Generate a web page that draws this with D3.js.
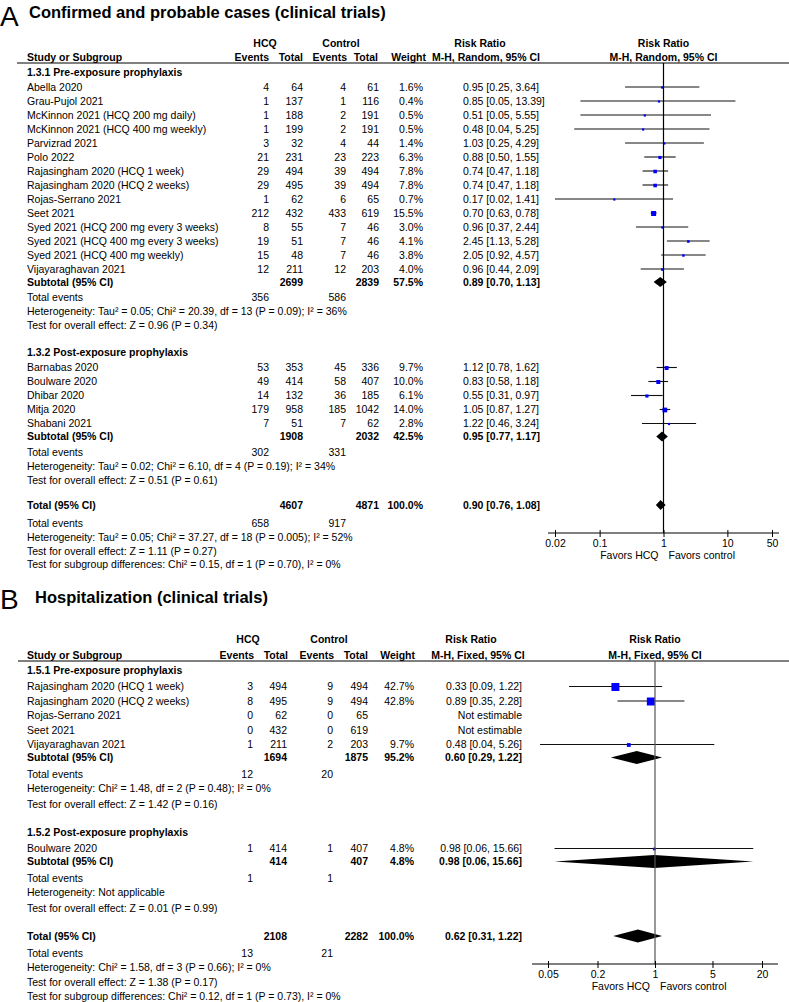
<!DOCTYPE html>
<html><head><meta charset="utf-8">
<script src="https://cdn.jsdelivr.net/npm/d3@7"></script>
<style>
body{margin:0;background:#fff;}
text{font-family:"Liberation Sans",Arial,Helvetica,sans-serif;}
</style>
</head><body>
<svg id="c" width="789" height="1002"></svg>
<script>
// ---------- Panel A: confirmed and probable cases ----------
// Subgroup 1.3.1 Pre-exposure prophylaxis
const a1Names = ["Abella 2020","Grau-Pujol 2021","McKinnon 2021 (HCQ 200 mg daily)","McKinnon 2021 (HCQ 400 mg weekly)","Parvizrad 2021","Polo 2022","Rajasingham 2020 (HCQ 1 week)","Rajasingham 2020 (HCQ 2 weeks)","Rojas-Serrano 2021","Seet 2021","Syed 2021 (HCQ 200 mg every 3 weeks)","Syed 2021 (HCQ 400 mg every 3 weeks)","Syed 2021 (HCQ 400 mg weekly)","Vijayaraghavan 2021"];
const a1HcqEvents = [4,1,1,1,3,21,29,29,1,212,8,19,15,12];
const a1HcqTotal  = [64,137,188,199,32,231,494,495,62,432,55,51,48,211];
const a1CtlEvents = [4,1,2,2,4,23,39,39,6,433,7,7,7,12];
const a1CtlTotal  = [61,116,191,191,44,223,494,494,65,619,46,46,46,203];
const a1Weight = [1.6,0.4,0.5,0.5,1.4,6.3,7.8,7.8,0.7,15.5,3.0,4.1,3.8,4.0];
const a1RR = [0.95,0.85,0.51,0.48,1.03,0.88,0.74,0.74,0.17,0.70,0.96,2.45,2.05,0.96];
const a1Lo = [0.25,0.05,0.05,0.04,0.25,0.50,0.47,0.47,0.02,0.63,0.37,1.13,0.92,0.44];
const a1Hi = [3.64,13.39,5.55,5.25,4.29,1.55,1.18,1.18,1.41,0.78,2.44,5.28,4.57,2.09];
const a1Sub = {hn:2699, cn:2839, w:57.5, rr:0.89, lo:0.70, hi:1.13, he:356, ce:586};
// Subgroup 1.3.2 Post-exposure prophylaxis
const a2Names = ["Barnabas 2020","Boulware 2020","Dhibar 2020","Mitja 2020","Shabani 2021"];
const a2HcqEvents = [53,49,14,179,7];
const a2HcqTotal  = [353,414,132,958,51];
const a2CtlEvents = [45,58,36,185,7];
const a2CtlTotal  = [336,407,185,1042,62];
const a2Weight = [9.7,10.0,6.1,14.0,2.8];
const a2RR = [1.12,0.83,0.55,1.05,1.22];
const a2Lo = [0.78,0.58,0.31,0.87,0.46];
const a2Hi = [1.62,1.18,0.97,1.27,3.24];
const a2Sub = {hn:1908, cn:2032, w:42.5, rr:0.95, lo:0.77, hi:1.17, he:302, ce:331};
const aTotal = {hn:4607, cn:4871, w:100.0, rr:0.90, lo:0.76, hi:1.08, he:658, ce:917};
const aTicks = [0.02, 0.1, 1, 10, 50];

// ---------- Panel B: hospitalization ----------
const b1Names = ["Rajasingham 2020 (HCQ 1 week)","Rajasingham 2020 (HCQ 2 weeks)","Rojas-Serrano 2021","Seet 2021","Vijayaraghavan 2021"];
const b1HcqEvents = [3,8,0,0,1];
const b1HcqTotal  = [494,495,62,432,211];
const b1CtlEvents = [9,9,0,0,2];
const b1CtlTotal  = [494,494,65,619,203];
const b1Weight = [42.7,42.8,null,null,9.7];
const b1RR = [0.33,0.89,null,null,0.48];
const b1Lo = [0.09,0.35,null,null,0.04];
const b1Hi = [1.22,2.28,null,null,5.26];
const b1Sub = {hn:1694, cn:1875, w:95.2, rr:0.60, lo:0.29, hi:1.22, he:12, ce:20};
const b2Names = ["Boulware 2020"];
const b2HcqEvents = [1];
const b2HcqTotal  = [414];
const b2CtlEvents = [1];
const b2CtlTotal  = [407];
const b2Weight = [4.8];
const b2RR = [0.98];
const b2Lo = [0.06];
const b2Hi = [15.66];
const b2Sub = {hn:414, cn:407, w:4.8, rr:0.98, lo:0.06, hi:15.66, he:1, ce:1};
const bTotal = {hn:2108, cn:2282, w:100.0, rr:0.62, lo:0.31, hi:1.22, he:13, ce:21};
const bTicks = [0.05, 0.2, 1, 5, 20];

// ---------- rendering ----------
const FS = 10.5;
const svg = d3.select("#c");
function addText(g, x, y, s, anchor, bold, size) {
  return g.append("text").attr("x", x).attr("y", y).attr("dy", "0.35em")
    .attr("text-anchor", anchor || "start").attr("font-size", size || FS)
    .attr("font-weight", bold ? "bold" : "normal").attr("fill", "#000").text(s);
}
const fmtRR = (r, l, h) => r == null ? "Not estimable" : `${r.toFixed(2)} [${l.toFixed(2)}, ${h.toFixed(2)}]`;
const fmtW = w => w == null ? "" : `${w.toFixed(1)}%`;

function drawPanel(p) {
  const g = svg.append("g");
  const c = p.col;
  g.append("text").attr("x", p.letterX).attr("y", p.letterY).attr("font-size", 28).attr("fill","#000").text(p.letter);
  g.append("text").attr("x", p.titleX).attr("y", p.titleY).attr("font-size", 16.5).attr("font-weight", "bold").attr("fill","#000").text(p.title);

  const x = d3.scaleLog().domain([p.ticks[0], p.ticks[p.ticks.length - 1]]).range(p.plotRange);
  const x1 = x(1);

  // headers
  const h = p.hdr;
  addText(g, h.hcq, p.hdr1Y, "HCQ", "middle", true);
  addText(g, h.ctl, p.hdr1Y, "Control", "middle", true);
  addText(g, h.rr, p.hdr1Y, "Risk Ratio", "middle", true);
  addText(g, x1, p.hdr1Y, "Risk Ratio", "middle", true);
  addText(g, c.name, p.hdr2Y, "Study or Subgroup", "start", true);
  addText(g, h.ev1, p.hdr2Y, "Events", "end", true);
  addText(g, h.n1, p.hdr2Y, "Total", "end", true);
  addText(g, h.ev2, p.hdr2Y, "Events", "end", true);
  addText(g, h.n2, p.hdr2Y, "Total", "end", true);
  addText(g, h.w, p.hdr2Y, "Weight", "end", true);
  addText(g, h.mh, p.hdr2Y, p.method, "middle", true);
  addText(g, x1, p.hdr2Y, p.method, "middle", true);
  g.append("line").attr("x1", p.lineX1).attr("x2", 789).attr("y1", p.lineY).attr("y2", p.lineY)
    .attr("stroke", "#000").attr("stroke-width", 1);

  const marks = g.append("g");
  function diamond(y, s) {
    marks.append("path")
      .attr("d", `M${x(s.lo)},${y}L${x(s.rr)},${y - p.diaH}L${x(s.hi)},${y}L${x(s.rr)},${y + p.diaH}Z`)
      .attr("fill", "#000");
  }
  function summaryRow(y, label, s) {
    addText(g, c.name, y, label, "start", true);
    addText(g, c.hcqN, y, s.hn, "end", true);
    addText(g, c.ctlN, y, s.cn, "end", true);
    addText(g, c.weight, y, fmtW(s.w), "end", true);
    addText(g, c.rr, y, fmtRR(s.rr, s.lo, s.hi), c.rrAnchor, true);
    diamond(y, s);
  }
  function eventsRow(y, s) {
    addText(g, c.name, y, "Total events");
    addText(g, c.hcqEv, y, s.he, "end");
    addText(g, c.ctlEv, y, s.ce, "end");
  }

  const gp = p.gaps;
  let y = p.y0;
  p.groups.forEach((gr, gi) => {
    if (gi > 0) y += gp.nextGroup;
    addText(g, c.name, y, gr.label, "start", true);
    gr.names.forEach((nm, i) => {
      y += i === 0 ? gp.firstStudy : gp.study;
      addText(g, c.name, y, nm);
      addText(g, c.hcqEv, y, gr.he[i], "end");
      addText(g, c.hcqN, y, gr.hn[i], "end");
      addText(g, c.ctlEv, y, gr.ce[i], "end");
      addText(g, c.ctlN, y, gr.cn[i], "end");
      addText(g, c.weight, y, fmtW(gr.w[i]), "end");
      addText(g, c.rr, y, fmtRR(gr.rr[i], gr.lo[i], gr.hi[i]), c.rrAnchor);
      if (gr.rr[i] != null) {
        marks.append("line").attr("x1", x(gr.lo[i])).attr("x2", x(gr.hi[i]))
          .attr("y1", y).attr("y2", y).attr("stroke", "#111").attr("stroke-width", 1.1);
        const s = Math.max(p.sqMin, p.sqK * Math.sqrt(gr.w[i]));
        marks.append("rect").attr("x", x(gr.rr[i]) - s / 2).attr("y", y - s / 2 + 0.5)
          .attr("width", s).attr("height", s).attr("fill", "#0000ff");
      }
    });
    y += gp.subtotal; summaryRow(y, "Subtotal (95% CI)", gr.sub);
    y += gp.events; eventsRow(y, gr.sub);
    y += gp.het; addText(g, c.name, y, gr.het);
    y += gp.test; addText(g, c.name, y, gr.test);
  });
  y += gp.total; summaryRow(y, "Total (95% CI)", p.total);
  const axisY = y + 28;
  y += gp.totEvents; eventsRow(y, p.total);
  y += gp.het; addText(g, c.name, y, p.totalHet);
  y += gp.totTest; addText(g, c.name, y, p.totalTest);
  y += gp.subgroup; addText(g, c.name, y, p.subgroupTest);

  // vertical line of no effect
  marks.append("line").attr("x1", x1).attr("x2", x1).attr("y1", p.lineY).attr("y2", axisY)
    .attr("stroke", p.vColor).attr("stroke-width", 1.2);

  // axis
  const ax = g.append("g").attr("transform", `translate(0,${axisY})`)
    .call(d3.axisBottom(x).tickValues(p.ticks).tickFormat(d => String(d)).tickSize(4).tickSizeOuter(0));
  ax.select(".domain").remove();
  ax.selectAll(".tick line").attr("y1", -3).attr("y2", 4).attr("stroke", "#000");
  ax.selectAll(".tick text").attr("font-size", FS).attr("fill", "#000")
    .attr("font-family", '"Liberation Sans",Arial,sans-serif');
  ax.append("line").attr("x1", p.plotRange[0] - p.axisPad).attr("x2", p.plotRange[1] + p.axisPad)
    .attr("stroke", "#000").attr("stroke-width", 1.1);
  addText(g, x1 - 5, axisY + 22, "Favors HCQ", "end");
  addText(g, x1 + 5, axisY + 22, "Favors control", "start");
}

drawPanel({
  letter: "A", title: "Confirmed and probable cases (clinical trials)",
  letterX: 0, letterY: 26, titleX: 29, titleY: 18,
  hdr1Y: 43, hdr2Y: 57, lineY: 63, lineX1: 17,
  col: {name: 27, hcqEv: 269, hcqN: 303, ctlEv: 346, ctlN: 379, weight: 423, rr: 463, rrAnchor: "start"},
  hdr: {hcq: 265, ctl: 341, rr: 480, mh: 486, ev1: 269, n1: 303, ev2: 347, n2: 378, w: 426},
  method: "M-H, Random, 95% CI",
  ticks: aTicks, plotRange: [555, 772], axisPad: 7, vColor: "#000",
  sqK: 1.27, sqMin: 2.2, diaH: 5,
  y0: 72,
  gaps: {firstStudy: 15, study: 14, subtotal: 13, events: 15.5, het: 14, test: 14, nextGroup: 27, total: 25, totEvents: 18, totTest: 14, subgroup: 13.5},
  groups: [
    {label: "1.3.1 Pre-exposure prophylaxis", names: a1Names, he: a1HcqEvents, hn: a1HcqTotal, ce: a1CtlEvents, cn: a1CtlTotal,
     w: a1Weight, rr: a1RR, lo: a1Lo, hi: a1Hi, sub: a1Sub,
     het: "Heterogeneity: Tau² = 0.05; Chi² = 20.39, df = 13 (P = 0.09); I² = 36%",
     test: "Test for overall effect: Z = 0.96 (P = 0.34)"},
    {label: "1.3.2 Post-exposure prophylaxis", names: a2Names, he: a2HcqEvents, hn: a2HcqTotal, ce: a2CtlEvents, cn: a2CtlTotal,
     w: a2Weight, rr: a2RR, lo: a2Lo, hi: a2Hi, sub: a2Sub,
     het: "Heterogeneity: Tau² = 0.02; Chi² = 6.10, df = 4 (P = 0.19); I² = 34%",
     test: "Test for overall effect: Z = 0.51 (P = 0.61)"}
  ],
  total: aTotal,
  totalHet: "Heterogeneity: Tau² = 0.05; Chi² = 37.27, df = 18 (P = 0.005); I² = 52%",
  totalTest: "Test for overall effect: Z = 1.11 (P = 0.27)",
  subgroupTest: "Test for subgroup differences: Chi² = 0.15, df = 1 (P = 0.70), I² = 0%"
});

drawPanel({
  letter: "B", title: "Hospitalization (clinical trials)",
  letterX: 0, letterY: 609, titleX: 35, titleY: 603,
  hdr1Y: 639, hdr2Y: 655, lineY: 661, lineX1: 18,
  col: {name: 27, hcqEv: 253, hcqN: 287, ctlEv: 333, ctlN: 368, weight: 414, rr: 522, rrAnchor: "end"},
  hdr: {hcq: 248, ctl: 329, rr: 471, mh: 478, ev1: 254, n1: 288, ev2: 334, n2: 368, w: 415},
  method: "M-H, Fixed, 95% CI",
  ticks: bTicks, plotRange: [548, 762], axisPad: 16, vColor: "#555",
  sqK: 1.22, sqMin: 2.2, diaH: 6.5,
  y0: 670,
  gaps: {firstStudy: 16.5, study: 14.5, subtotal: 13, events: 17, het: 14, test: 15.5, nextGroup: 28, total: 28, totEvents: 17, totTest: 15.5, subgroup: 14},
  groups: [
    {label: "1.5.1 Pre-exposure prophylaxis", names: b1Names, he: b1HcqEvents, hn: b1HcqTotal, ce: b1CtlEvents, cn: b1CtlTotal,
     w: b1Weight, rr: b1RR, lo: b1Lo, hi: b1Hi, sub: b1Sub,
     het: "Heterogeneity: Chi² = 1.48, df = 2 (P = 0.48); I² = 0%",
     test: "Test for overall effect: Z = 1.42 (P = 0.16)"},
    {label: "1.5.2 Post-exposure prophylaxis", names: b2Names, he: b2HcqEvents, hn: b2HcqTotal, ce: b2CtlEvents, cn: b2CtlTotal,
     w: b2Weight, rr: b2RR, lo: b2Lo, hi: b2Hi, sub: b2Sub,
     het: "Heterogeneity: Not applicable",
     test: "Test for overall effect: Z = 0.01 (P = 0.99)"}
  ],
  total: bTotal,
  totalHet: "Heterogeneity: Chi² = 1.58, df = 3 (P = 0.66); I² = 0%",
  totalTest: "Test for overall effect: Z = 1.38 (P = 0.17)",
  subgroupTest: "Test for subgroup differences: Chi² = 0.12, df = 1 (P = 0.73), I² = 0%"
});
</script>
</body></html>
